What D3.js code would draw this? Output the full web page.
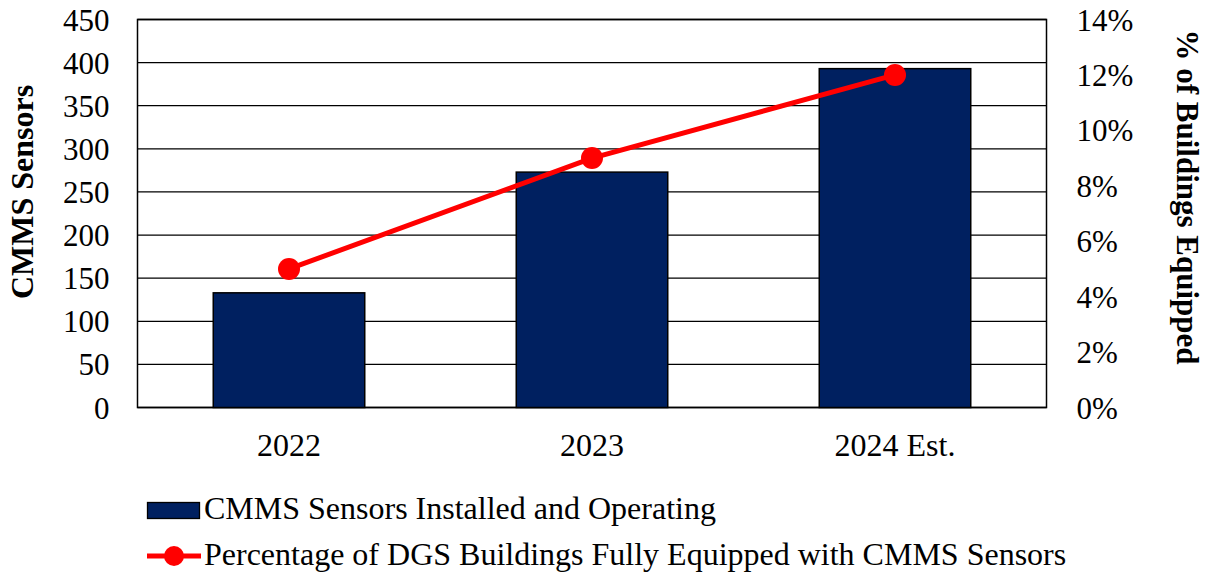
<!DOCTYPE html>
<html>
<head>
<meta charset="utf-8">
<script src="https://cdn.jsdelivr.net/npm/d3@7"></script>
<style>
  html, body { margin: 0; padding: 0; background: #fff; }
  svg { display: block; }
  text { font-family: "Liberation Serif", "Times New Roman", serif; fill: #000; }
</style>
</head>
<body>
<svg id="chart" width="1210" height="573"></svg>
<script>
// Chart data
const categories = ["2022", "2023", "2024 Est."];
const sensorCounts = [133, 273, 393];
const pctEquipped = [0.05, 0.09, 0.12];
const leftTicks = [0, 50, 100, 150, 200, 250, 300, 350, 400, 450];
const rightTicks = [0, 0.02, 0.04, 0.06, 0.08, 0.10, 0.12, 0.14];
const seriesNames = [
  "CMMS Sensors Installed and Operating",
  "Percentage of DGS Buildings Fully Equipped with CMMS Sensors"
];
const axisTitles = ["CMMS Sensors", "% of Buildings Equipped"];

const barColor = "#002060";
const lineColor = "#ff0000";
const tickFont = 31;
const labelFont = 32;

const svg = d3.select("#chart");
const plot = { left: 137.5, right: 1046.5, top: 19.5, bottom: 407.5 };

const x = d3.scaleBand()
  .domain(categories)
  .range([plot.left, plot.right])
  .paddingInner(0.5)
  .paddingOuter(0.25);

const yLeft = d3.scaleLinear().domain([0, 450]).range([plot.bottom, plot.top]);
const yRight = d3.scaleLinear().domain([0, 0.14]).range([plot.bottom, plot.top]);

// Horizontal gridlines
svg.append("g")
  .selectAll("line")
  .data(leftTicks)
  .join("line")
  .attr("x1", plot.left).attr("x2", plot.right)
  .attr("y1", d => yLeft(d)).attr("y2", d => yLeft(d))
  .attr("stroke", "#000").attr("stroke-width", 1.3);

// Plot frame
svg.append("rect")
  .attr("x", plot.left).attr("y", plot.top)
  .attr("width", plot.right - plot.left).attr("height", plot.bottom - plot.top)
  .attr("fill", "none").attr("stroke", "#000").attr("stroke-width", 1.5);

// Bars
svg.append("g")
  .selectAll("rect")
  .data(categories)
  .join("rect")
  .attr("x", d => x(d))
  .attr("width", x.bandwidth())
  .attr("y", (d, i) => yLeft(sensorCounts[i]))
  .attr("height", (d, i) => yLeft(0) - yLeft(sensorCounts[i]))
  .attr("fill", barColor)
  .attr("stroke", "#000")
  .attr("stroke-width", 1.5);

// Left axis
const leftAxis = d3.axisLeft(yLeft).tickValues(leftTicks).tickSize(0).tickPadding(28);
const gl = svg.append("g").attr("transform", `translate(${plot.left},0)`).call(leftAxis);
gl.select(".domain").remove();
gl.selectAll("text").attr("font-size", tickFont).attr("font-family", "Liberation Serif").attr("dy", "0.34em");

// Right axis
const rightAxis = d3.axisRight(yRight).tickValues(rightTicks).tickSize(0).tickPadding(30)
  .tickFormat(d3.format(".0%"));
const gr = svg.append("g").attr("transform", `translate(${plot.right},0)`).call(rightAxis);
gr.select(".domain").remove();
gr.selectAll("text").attr("font-size", tickFont).attr("font-family", "Liberation Serif").attr("dy", "0.34em");

// Bottom axis
const bottomAxis = d3.axisBottom(x).tickSize(0).tickPadding(26);
const gb = svg.append("g").attr("transform", `translate(0,${plot.bottom})`).call(bottomAxis);
gb.select(".domain").remove();
gb.selectAll("text").attr("font-size", labelFont).attr("font-family", "Liberation Serif");

// Percentage line with markers
const line = d3.line()
  .x((d, i) => x(categories[i]) + x.bandwidth() / 2)
  .y(d => yRight(d));

svg.append("path")
  .datum(pctEquipped)
  .attr("d", line)
  .attr("fill", "none")
  .attr("stroke", lineColor)
  .attr("stroke-width", 5);

svg.append("g")
  .selectAll("circle")
  .data(pctEquipped)
  .join("circle")
  .attr("cx", (d, i) => x(categories[i]) + x.bandwidth() / 2)
  .attr("cy", d => yRight(d))
  .attr("r", 11)
  .attr("fill", lineColor);

// Axis titles
svg.append("text")
  .attr("transform", "translate(33,192) rotate(-90)")
  .attr("text-anchor", "middle")
  .attr("font-size", labelFont)
  .attr("font-weight", "bold")
  .text(axisTitles[0]);

svg.append("text")
  .attr("transform", "translate(1177,197) rotate(90)")
  .attr("text-anchor", "middle")
  .attr("font-size", tickFont)
  .attr("font-weight", "bold")
  .text(axisTitles[1]);

// Legend
const legend = svg.append("g");
legend.append("rect")
  .attr("x", 147.5).attr("y", 502.5).attr("width", 52).attr("height", 16)
  .attr("fill", barColor).attr("stroke", "#000").attr("stroke-width", 1.3);
legend.append("text")
  .attr("x", 204).attr("y", 519)
  .attr("font-size", labelFont)
  .text(seriesNames[0]);

legend.append("line")
  .attr("x1", 147).attr("x2", 201).attr("y1", 556).attr("y2", 556)
  .attr("stroke", lineColor).attr("stroke-width", 5);
legend.append("circle")
  .attr("cx", 174).attr("cy", 556).attr("r", 10)
  .attr("fill", lineColor);
legend.append("text")
  .attr("x", 204).attr("y", 565)
  .attr("font-size", labelFont)
  .text(seriesNames[1]);
</script>
</body>
</html>
